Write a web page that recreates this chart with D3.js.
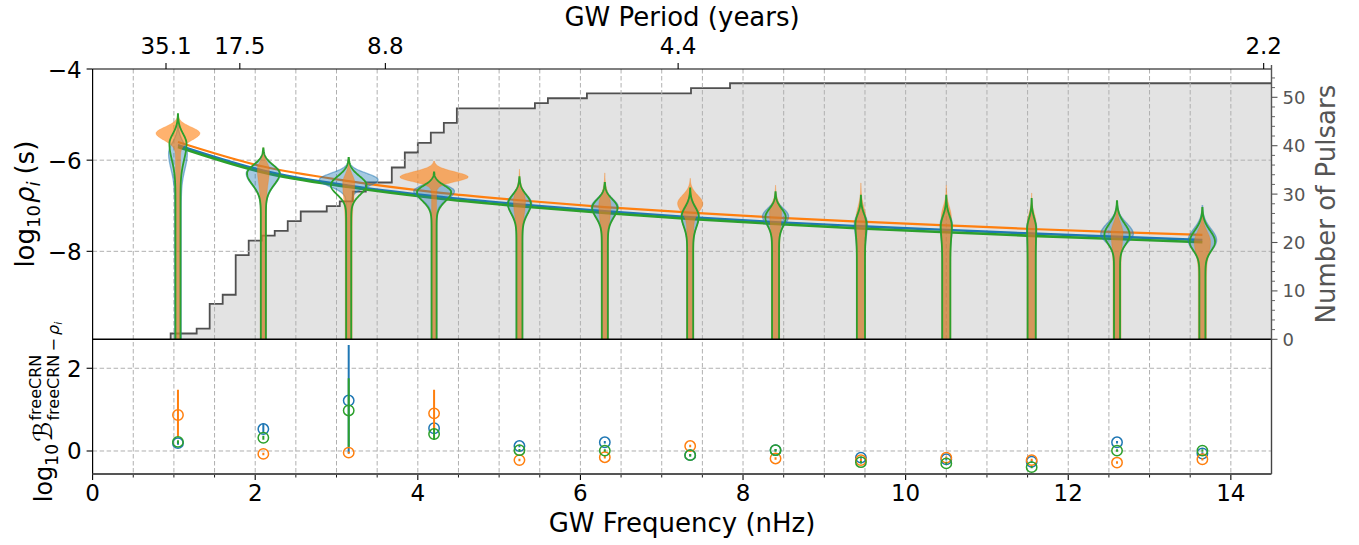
<!DOCTYPE html>
<html><head><meta charset="utf-8">
<script src="https://cdn.jsdelivr.net/npm/d3@7"></script>
<style>
body{margin:0;background:#fff}
svg{display:block;font-family:"DejaVu Sans",sans-serif}
</style></head><body>
<svg id="chart" width="1359" height="545"></svg>
<script>
// ---- free-spectrum frequency bins (nHz) ----
const freqs = [1.05, 2.1, 3.15, 4.2, 5.25, 6.3, 7.35, 8.4, 9.45, 10.5, 11.55, 12.6, 13.65];

// ---- power-law fits, log10 rho at each bin ----
const fitBlue   = [-5.67, -6.23, -6.56, -6.79, -6.97, -7.12, -7.25, -7.36, -7.45, -7.53, -7.61, -7.68, -7.75];
const fitOrange = [-5.60, -6.14, -6.46, -6.70, -6.88, -7.03, -7.15, -7.26, -7.35, -7.43, -7.51, -7.58, -7.64];
const fitGreen  = [-5.71, -6.27, -6.59, -6.83, -7.01, -7.16, -7.29, -7.40, -7.50, -7.58, -7.66, -7.73, -7.80];

// ---- violin summaries: mode, half-width (nHz), upper tip, stem half-width (nHz), lower spread (dex) ----
const modeBlue  = [-5.85, -6.29, -6.43, -6.68, -6.95, -7.03, -7.22, -7.23, -7.40, -7.42, -7.50, -7.62, -7.76];
const halfBlue  = [0.115, 0.21, 0.36, 0.25, 0.15, 0.165, 0.11, 0.16, 0.08, 0.075, 0.062, 0.20, 0.175];
const tipBlue   = [-5.15, -5.78, -6.00, -6.30, -6.40, -6.50, -6.62, -6.72, -6.80, -6.80, -6.88, -6.92, -7.00];
const stemBlue  = [0.040, 0.032, 0.032, 0.032, 0.037, 0.037, 0.037, 0.043, 0.05, 0.05, 0.05, 0.037, 0.037];
const lowBlue   = [0.35, 0.25, 0.15, 0.18, 0.20, 0.20, 0.22, 0.18, 0.25, 0.25, 0.25, 0.18, 0.20];

const modeOrange = [-5.41, -6.20, -6.50, -6.37, -6.90, -7.00, -6.95, -7.15, -7.30, -7.25, -7.40, -7.60, -7.80];
const halfOrange = [0.27, 0.074, 0.074, 0.42, 0.074, 0.074, 0.155, 0.074, 0.062, 0.062, 0.055, 0.074, 0.10];
const tipOrange  = [-5.00, -5.72, -5.95, -6.02, -6.20, -6.28, -6.40, -6.55, -6.50, -6.55, -6.72, -6.95, -7.10];
const stemOrange = [0.031, 0.037, 0.043, 0.031, 0.037, 0.043, 0.043, 0.05, 0.055, 0.055, 0.055, 0.05, 0.05];
const lowOrange  = [0.15, 0.30, 0.35, 0.10, 0.30, 0.30, 0.18, 0.30, 0.30, 0.30, 0.30, 0.25, 0.25];

const modeGreen = [-5.64, -6.29, -6.55, -6.70, -6.96, -7.04, -7.24, -7.25, -7.40, -7.45, -7.50, -7.64, -7.79];
const halfGreen = [0.105, 0.20, 0.22, 0.21, 0.14, 0.155, 0.105, 0.125, 0.068, 0.068, 0.055, 0.155, 0.155];
const tipGreen  = [-4.99, -5.74, -5.95, -6.27, -6.37, -6.50, -6.62, -6.70, -6.78, -6.78, -6.85, -6.90, -7.05];
const stemGreen = [0.031, 0.031, 0.031, 0.031, 0.037, 0.037, 0.037, 0.043, 0.05, 0.05, 0.05, 0.037, 0.037];
const lowGreen  = [0.35, 0.25, 0.20, 0.20, 0.22, 0.22, 0.22, 0.20, 0.25, 0.25, 0.25, 0.20, 0.20];

// ---- number of pulsars contributing above each frequency ----
const stepFreqs  = [0.96, 1.28, 1.44, 1.60, 1.76, 1.92, 2.08, 2.24, 2.40, 2.56, 2.88, 3.04, 3.20, 3.36, 3.68, 3.84, 4.00, 4.16, 4.32, 4.48, 5.44, 5.60, 6.08, 7.36, 7.84];
const stepCounts = [1.2, 2.2, 7.3, 9.2, 17.4, 20.4, 21.4, 22.4, 24.4, 26.4, 27.5, 28.5, 30.5, 32.4, 35.5, 38.6, 40.6, 42.7, 44.7, 47.7, 48.8, 49.8, 50.8, 51.9, 52.9];

// ---- Bayes factors per bin, with error bars ----
const bfBlue     = [0.19, 0.53, 1.22, 0.55, 0.12, 0.21, -0.10, 0.02, -0.16, -0.20, -0.26, 0.21, -0.06];
const bfBlueLo   = [0.15, 0.43, -0.05, 0.47, 0.09, 0.18, -0.13, -0.01, -0.19, -0.23, -0.29, 0.18, -0.09];
const bfBlueHi   = [0.23, 0.67, 2.56, 0.63, 0.15, 0.24, -0.07, 0.05, -0.13, -0.17, -0.23, 0.24, -0.03];
const bfOrange   = [0.87, -0.07, -0.04, 0.91, -0.22, -0.15, 0.12, -0.18, -0.22, -0.16, -0.22, -0.28, -0.20];
const bfOrangeLo = [0.35, -0.10, -0.07, 0.50, -0.25, -0.18, 0.09, -0.21, -0.25, -0.19, -0.25, -0.31, -0.23];
const bfOrangeHi = [1.48, -0.04, -0.01, 1.48, -0.19, -0.12, 0.15, -0.15, -0.19, -0.13, -0.19, -0.25, -0.17];
const bfGreen    = [0.22, 0.32, 0.98, 0.41, 0.02, 0.01, -0.10, 0.02, -0.27, -0.30, -0.39, 0.01, 0.01];
const bfGreenLo  = [0.18, 0.27, 0.10, 0.27, -0.01, -0.02, -0.13, -0.01, -0.30, -0.33, -0.42, -0.02, -0.02];
const bfGreenHi  = [0.26, 0.37, 1.76, 0.55, 0.05, 0.04, -0.07, 0.05, -0.24, -0.27, -0.36, 0.04, 0.04];

// ---- tick labels ----
const xTicks = [0, 2, 4, 6, 8, 10, 12, 14];
const periodTicks = ["35.1", "17.5", "8.8", "4.4", "2.2"];
const rhoTicks = [-4, -6, -8];
const bfTicks = [0, 2];
const psrTicks = [0, 10, 20, 30, 40, 50];

const C = {blue: "#1f77b4", orange: "#ff7f0e", green: "#2ca02c"};

const svg = d3.select("#chart");
const L = 92.6, R = 1271.5, T = 69, M = 339.3, B = 474;

const x = d3.scaleLinear().domain([0, 14.5]).range([L, R]);
const yRho = d3.scaleLinear().domain([-9.93, -4]).range([M, T]);
const yPsr = d3.scaleLinear().domain([0, 50]).range([M, 97.3]);
const yBF = d3.scaleLinear().domain([-0.556, 2.70]).range([B, M]);

const defs = svg.append("defs");
defs.append("clipPath").attr("id", "clipTop").append("rect")
  .attr("x", L).attr("y", T).attr("width", R - L).attr("height", M - T);
defs.append("clipPath").attr("id", "clipBot").append("rect")
  .attr("x", L).attr("y", M).attr("width", R - L).attr("height", B - M);

const gTop = svg.append("g").attr("clip-path", "url(#clipTop)");

// pulsar-count staircase (drawn behind everything in the upper panel)
const steps = [{f: stepFreqs[0], n: 0}]
  .concat(stepFreqs.map((f, i) => ({f, n: stepCounts[i]})))
  .concat([{f: 14.5, n: stepCounts[stepCounts.length - 1]}]);
gTop.append("path").datum(steps)
  .attr("d", d3.area().curve(d3.curveStepAfter).x(d => x(d.f)).y0(yPsr(0)).y1(d => yPsr(d.n)))
  .attr("fill", "#e3e3e3");
gTop.append("path").datum(steps)
  .attr("d", d3.line().curve(d3.curveStepAfter).x(d => x(d.f)).y(d => yPsr(d.n)))
  .attr("fill", "none").attr("stroke", "#505050").attr("stroke-width", 1.8);

// dashed grid
const gridStyle = sel => sel.attr("stroke", "#b0b0b0").attr("stroke-width", 1)
  .attr("stroke-dasharray", "4.5,2.5");
const gridX = d3.range(0.5, 14.5, 0.5);
svg.append("g").selectAll("line").data(gridX).join("line")
  .attr("x1", d => x(d)).attr("x2", d => x(d)).attr("y1", T).attr("y2", B)
  .call(gridStyle);
svg.append("g").selectAll("line").data([-6, -8]).join("line")
  .attr("x1", L).attr("x2", R).attr("y1", d => yRho(d)).attr("y2", d => yRho(d))
  .call(gridStyle);
svg.append("g").selectAll("line").data([0, 2]).join("line")
  .attr("x1", L).attr("x2", R).attr("y1", d => yBF(d)).attr("y2", d => yBF(d))
  .call(gridStyle);

const gFit = svg.append("g").attr("clip-path", "url(#clipTop)");
const gViol = svg.append("g").attr("clip-path", "url(#clipTop)");
const gBot = svg.append("g").attr("clip-path", "url(#clipBot)");

// power-law fit curves
const fitLine = d3.line().curve(d3.curveMonotoneX).x(d => x(d[0])).y(d => yRho(d[1]));
[[fitBlue, C.blue, 2.4], [fitOrange, C.orange, 2.2], [fitGreen, C.green, 2.6]].forEach(([vals, col, w]) => {
  gFit.append("path").datum(freqs.map((f, i) => [f, vals[i]]))
    .attr("d", fitLine).attr("fill", "none").attr("stroke", col).attr("stroke-width", w);
});

// violin outline from its summary numbers
function profile(mode, half, tip, stem, low) {
  const su = (tip - mode) / 3, pts = [];
  for (let y = -10.3; y < tip; y += 0.01) {
    let w;
    if (y >= mode) { const t = (y - mode) / su; w = half * Math.exp(-0.5 * t * t); }
    else { const t = (mode - y) / low; w = stem + (half - stem) * Math.exp(-0.5 * t * t); }
    pts.push({y, w});
  }
  pts.push({y: tip, w: 0});
  return pts;
}
function violins(mode, half, tip, stem, low) {
  return freqs.map((f, i) => ({f, pts: profile(mode[i], half[i], tip[i], stem[i], low[i])}));
}
const violinArea = f => d3.area().curve(d3.curveLinear)
  .y(d => yRho(d.y)).x0(d => x(f - d.w)).x1(d => x(f + d.w));

gViol.append("g").selectAll("path").data(violins(modeBlue, halfBlue, tipBlue, stemBlue, lowBlue)).join("path")
  .attr("d", v => violinArea(v.f)(v.pts))
  .attr("fill", C.blue).attr("fill-opacity", 0.4)
  .attr("stroke", C.blue).attr("stroke-opacity", 0.5).attr("stroke-width", 1.3);
gViol.append("g").selectAll("path").data(violins(modeOrange, halfOrange, tipOrange, stemOrange, lowOrange)).join("path")
  .attr("d", v => violinArea(v.f)(v.pts))
  .attr("fill", C.orange).attr("fill-opacity", 0.6)
  .attr("stroke", C.orange).attr("stroke-opacity", 0.25).attr("stroke-width", 1);
gViol.append("g").selectAll("path").data(violins(modeGreen, halfGreen, tipGreen, stemGreen, lowGreen)).join("path")
  .attr("d", v => violinArea(v.f)(v.pts))
  .attr("fill", "none").attr("stroke", C.green).attr("stroke-width", 1.8);

// Bayes factor markers with error bars
[[bfBlue, bfBlueLo, bfBlueHi, C.blue], [bfOrange, bfOrangeLo, bfOrangeHi, C.orange], [bfGreen, bfGreenLo, bfGreenHi, C.green]]
  .forEach(([v, lo, hi, col]) => {
    const g = gBot.append("g");
    g.selectAll("line").data(freqs).join("line")
      .attr("x1", d => x(d)).attr("x2", d => x(d))
      .attr("y1", (d, i) => yBF(lo[i])).attr("y2", (d, i) => yBF(hi[i]))
      .attr("stroke", col).attr("stroke-width", 2);
    g.selectAll("circle").data(freqs).join("circle")
      .attr("cx", d => x(d)).attr("cy", (d, i) => yBF(v[i])).attr("r", 5.2)
      .attr("fill", "none").attr("stroke", col).attr("stroke-width", 1.5);
  });

// ---- axes ----
const fs = 23;
// bottom x axis
const xAxis = svg.append("g").attr("transform", `translate(0,${B})`);
xAxis.selectAll("line.minor").data(gridX.filter(d => d % 2 !== 0)).join("line")
  .attr("x1", d => x(d)).attr("x2", d => x(d)).attr("y1", 0).attr("y2", 3.5)
  .attr("stroke", "#000").attr("stroke-width", 0.9);
xAxis.selectAll("line.major").data(xTicks).join("line")
  .attr("x1", d => x(d)).attr("x2", d => x(d)).attr("y1", 0).attr("y2", 6)
  .attr("stroke", "#000").attr("stroke-width", 1.1);
xAxis.selectAll("text").data(xTicks).join("text")
  .attr("x", d => x(d)).attr("y", 27).attr("text-anchor", "middle")
  .attr("font-size", fs).text(d => d);
svg.append("text").attr("x", (L + R) / 2).attr("y", 532).attr("text-anchor", "middle")
  .attr("font-size", 26).text("GW Frequency (nHz)");

// top period axis
const secPerYear = 365.25 * 86400;
const periodFreq = p => 1e9 / (parseFloat(p) * secPerYear);
const tAxis = svg.append("g");
tAxis.selectAll("line").data(periodTicks).join("line")
  .attr("x1", d => x(periodFreq(d))).attr("x2", d => x(periodFreq(d)))
  .attr("y1", T).attr("y2", T - 6).attr("stroke", "#000").attr("stroke-width", 1.1);
tAxis.selectAll("text").data(periodTicks).join("text")
  .attr("x", d => x(periodFreq(d))).attr("y", 54).attr("text-anchor", "middle")
  .attr("font-size", fs).text(d => d);
svg.append("text").attr("x", (L + R) / 2).attr("y", 26).attr("text-anchor", "middle")
  .attr("font-size", 26).text("GW Period (years)");

// left axes
const lAxis = svg.append("g");
lAxis.selectAll("line.r").data(rhoTicks).join("line")
  .attr("x1", L - 6).attr("x2", L).attr("y1", d => yRho(d)).attr("y2", d => yRho(d))
  .attr("stroke", "#000").attr("stroke-width", 1.1);
lAxis.selectAll("text.r").data(rhoTicks).join("text")
  .attr("x", L - 11).attr("y", d => yRho(d) + 8.5).attr("text-anchor", "end")
  .attr("font-size", fs).text(d => "\u2212" + Math.abs(d));
lAxis.selectAll("line.b").data(bfTicks).join("line")
  .attr("x1", L - 6).attr("x2", L).attr("y1", d => yBF(d)).attr("y2", d => yBF(d))
  .attr("stroke", "#000").attr("stroke-width", 1.1);
lAxis.selectAll("text.b").data(bfTicks).join("text")
  .attr("x", L - 11).attr("y", d => yBF(d) + 8.5).attr("text-anchor", "end")
  .attr("font-size", fs).text(d => d);

// right pulsar-count axis
const grey = "#555";
const rAxis = svg.append("g");
rAxis.selectAll("line.minor").data(d3.range(0, 56, 2).filter(d => d % 10 !== 0)).join("line")
  .attr("x1", R).attr("x2", R + 3.5).attr("y1", d => yPsr(d)).attr("y2", d => yPsr(d))
  .attr("stroke", grey).attr("stroke-width", 0.9);
rAxis.selectAll("line.major").data(psrTicks).join("line")
  .attr("x1", R).attr("x2", R + 6).attr("y1", d => yPsr(d)).attr("y2", d => yPsr(d))
  .attr("stroke", grey).attr("stroke-width", 1.1);
rAxis.selectAll("text").data(psrTicks).join("text")
  .attr("x", R + 11).attr("y", d => yPsr(d) + 6.5)
  .attr("font-size", 18).attr("fill", grey).text(d => d);
svg.append("text").attr("transform", `translate(1335,${(T + M) / 2}) rotate(-90)`)
  .attr("text-anchor", "middle").attr("font-size", 26).attr("fill", grey)
  .text("Number of Pulsars");

// spines
const spine = (x1, y1, x2, y2, col, w) => svg.append("line")
  .attr("x1", x1).attr("y1", y1).attr("x2", x2).attr("y2", y2)
  .attr("stroke", col).attr("stroke-width", w);
spine(L, T, R, T, "#000", 1.2);
spine(L, T, L, B, "#000", 1.2);
spine(L, M, R, M, "#000", 1.4);
spine(R, T - 4, R, M, grey, 1.4);
spine(R, M, R, B, "#444", 1.4);
spine(L, B, R, B, "#555", 2);

// rotated math labels built from pieces
function mathLabel(cx, cy, pieces) {
  const g = svg.append("g");
  const inner = g.append("g");
  let pos = 0;
  pieces.forEach(p => {
    const t = inner.append("text").attr("x", pos).attr("y", p.dy || 0)
      .attr("font-size", p.size).attr("font-style", p.italic ? "italic" : null).text(p.s);
    pos += t.node().getComputedTextLength() + (p.gap || 0);
  });
  inner.attr("transform", `translate(${-pos / 2},0)`);
  g.attr("transform", `translate(${cx},${cy}) rotate(-90)`);
}
mathLabel(34, (T + M) / 2, [
  {s: "log", size: 26},
  {s: "10", size: 18, dy: 6, gap: 2},
  {s: "\u03C1", size: 26, italic: true},
  {s: "i", size: 18, italic: true, dy: 6, gap: 7},
  {s: "(s)", size: 26}
]);

// lower label: log10 B with stacked super/subscripts
(function () {
  const g = svg.append("g");
  const inner = g.append("g");
  let pos = 0;
  const add = (s, size, dy, italic) => {
    const t = inner.append("text").attr("x", pos).attr("y", dy).attr("font-size", size)
      .attr("font-style", italic ? "italic" : null).text(s);
    return t.node().getComputedTextLength();
  };
  pos += add("log", 24, 0);
  pos += add("10", 17, 6) + 2;
  pos += add("\u212C", 26, 0) + 1;
  const start = pos;
  const wSup = add("freeCRN", 16, -11);
  let sub = add("freeCRN\u2009\u2212\u2009", 16, 7);
  pos = start + sub;
  sub += add("\u03C1", 16, 7, true);
  pos = start + sub;
  sub += add("i", 11, 10, true);
  pos = start + Math.max(wSup, sub);
  inner.attr("transform", `translate(${-pos / 2},0)`);
  g.attr("transform", `translate(52,412) rotate(-90)`);
})();
</script>
</body></html>
